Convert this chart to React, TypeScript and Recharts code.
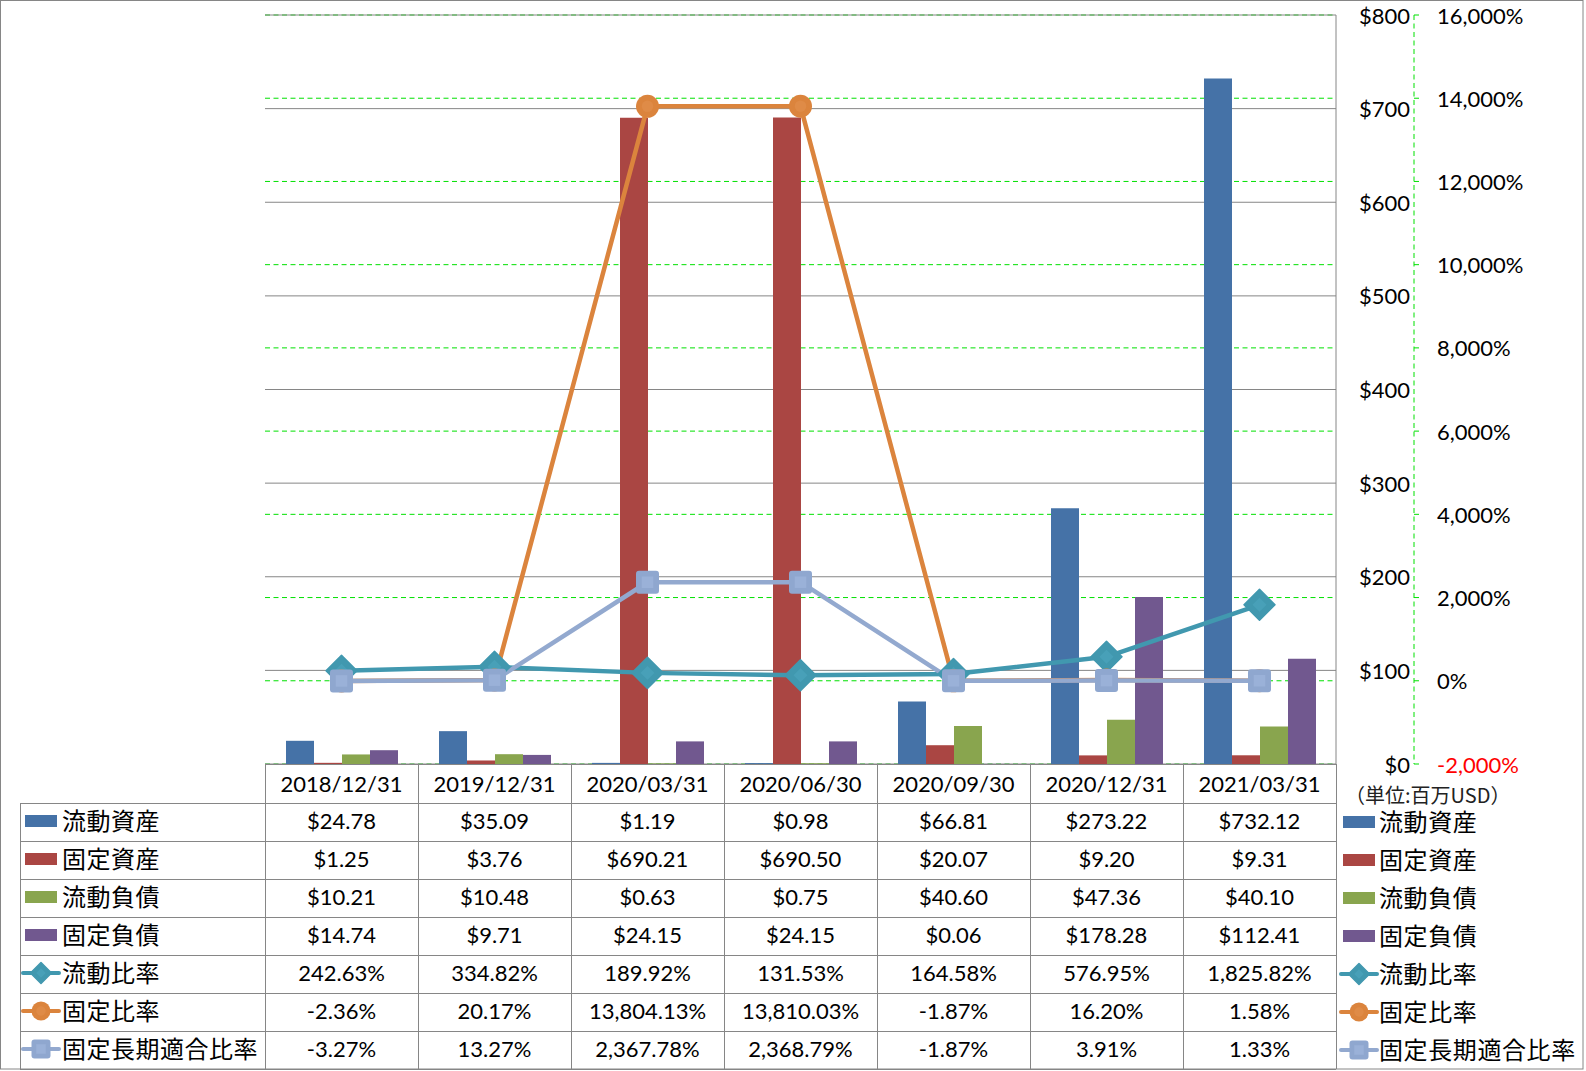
import { Bar, CartesianGrid, ComposedChart, Line, XAxis, YAxis } from "recharts"

const dates = ["2018/12/31", "2019/12/31", "2020/03/31", "2020/06/30", "2020/09/30", "2020/12/31", "2021/03/31"]

// 単位: 百万USD
const currentAssets = [24.78, 35.09, 1.19, 0.98, 66.81, 273.22, 732.12]
const fixedAssets = [1.25, 3.76, 690.21, 690.5, 20.07, 9.2, 9.31]
const currentLiabilities = [10.21, 10.48, 0.63, 0.75, 40.6, 47.36, 40.1]
const fixedLiabilities = [14.74, 9.71, 24.15, 24.15, 0.06, 178.28, 112.41]

// %
const currentRatio = [242.63, 334.82, 189.92, 131.53, 164.58, 576.95, 1825.82]
const fixedRatio = [-2.36, 20.17, 13804.13, 13810.03, -1.87, 16.2, 1.58]
const fixedLongTermRatio = [-3.27, 13.27, 2367.78, 2368.79, -1.87, 3.91, 1.33]

const usdTicks = [0, 100, 200, 300, 400, 500, 600, 700, 800]
const pctTicks = [-2000, 0, 2000, 4000, 6000, 8000, 10000, 12000, 14000, 16000]

type Marker = "bar" | "diamond" | "circle" | "square"

const SERIES: { key: string; name: string; color: string; marker: Marker; values: number[] }[] = [
  { key: "ca", name: "流動資産", color: "#4572A7", marker: "bar", values: currentAssets },
  { key: "fa", name: "固定資産", color: "#AA4643", marker: "bar", values: fixedAssets },
  { key: "cl", name: "流動負債", color: "#89A54E", marker: "bar", values: currentLiabilities },
  { key: "fl", name: "固定負債", color: "#71588F", marker: "bar", values: fixedLiabilities },
  { key: "cr", name: "流動比率", color: "#4198AF", marker: "diamond", values: currentRatio },
  { key: "fr", name: "固定比率", color: "#DB843D", marker: "circle", values: fixedRatio },
  { key: "flr", name: "固定長期適合比率", color: "#93A9CF", marker: "square", values: fixedLongTermRatio },
]

const rows = dates.map((date, i) => {
  const row: Record<string, string | number> = { date }
  SERIES.forEach((s) => (row[s.key] = s.values[i]))
  return row
})

const NUM_FONT = "Lato, 'Noto Sans', sans-serif"
const CJK_FONT = "'Noto Sans CJK JP', sans-serif"
const GRID = "#868686"
const GREEN = "#00E000"

// axis ids: 0 = $ (primary, inner), 1 = % (secondary, outer)
const USD = 0
const PCT = 1

// layout of the Excel-style sheet
const PLOT_LEFT = 265
const PLOT_TOP = 15
const PLOT_BOTTOM = 764
const COL_W = 153
const HEADER_H = 39
const ROW_H = 38
const KEY_LEFT = 20
const FRAME_W = 1583
const FRAME_H = 1069

const fmtUsd = (v: number) => "$" + v.toFixed(2)
const fmtPct = (v: number) =>
  v.toLocaleString("en-US", { minimumFractionDigits: 2, maximumFractionDigits: 2 }) + "%"

function MarkerShape({ marker, color, cx, cy, size }: { marker: Marker; color: string; cx: number; cy: number; size: number }) {
  if (marker === "diamond") {
    const h = size / 2
    return (
      <g>
        <path d={`M${cx},${cy - h} L${cx + h},${cy} L${cx},${cy + h} L${cx - h},${cy} Z`} fill={color} stroke={color} strokeWidth={1.5} strokeLinejoin="round" />
        <path d={`M${cx},${cy - h * 0.45} L${cx + h * 0.45},${cy} L${cx},${cy + h * 0.45} L${cx - h * 0.45},${cy} Z`} fill="#48A0B8" />
      </g>
    )
  }
  if (marker === "circle") {
    return (
      <g>
        <circle cx={cx} cy={cy} r={size / 2} fill={color} />
        <circle cx={cx} cy={cy} r={size / 4} fill="#DF8B47" />
      </g>
    )
  }
  const h = size / 2
  return (
    <g>
      <rect x={cx - h} y={cy - h} width={size} height={size} rx={3} fill="#8FA7CF" />
      <rect x={cx - h * 0.5} y={cy - h * 0.5} width={h} height={h} fill="#9AB1D8" />
    </g>
  )
}

const DOT_SIZE: Record<string, number> = { diamond: 31, circle: 23, square: 23 }

function makeDot(marker: Marker, color: string) {
  return (props: any) => {
    const { cx, cy, index } = props
    if (cx == null || cy == null) return <g key={index} />
    return (
      <g key={index}>
        <MarkerShape marker={marker} color={color} cx={cx} cy={cy} size={DOT_SIZE[marker]} />
      </g>
    )
  }
}

function UsdTick({ x, y, payload }: any) {
  return (
    <text x={x + 74} y={y} textAnchor="end" dominantBaseline="central" fontFamily={NUM_FONT} fontSize={22} fill="#000">
      {"$" + payload.value}
    </text>
  )
}

function PctTick({ x, y, payload }: any) {
  const v = Number(payload.value)
  return (
    <text x={x} y={y} textAnchor="start" dominantBaseline="central" fontFamily={NUM_FONT} fontSize={22} fill={v < 0 ? "#FF0000" : "#000"}>
      {v.toLocaleString("en-US") + "%"}
    </text>
  )
}

function LegendKey({ marker, color, x, cy }: { marker: Marker; color: string; x: number; cy: number }) {
  if (marker === "bar") return <rect x={x + 2} y={cy - 6} width={32} height={12} fill={color} />
  const size = marker === "diamond" ? 21 : 19
  return (
    <g>
      <line x1={x} x2={x + 36} y1={cy} y2={cy} stroke={color} strokeWidth={4} strokeLinecap="round" />
      <MarkerShape marker={marker} color={color} cx={x + 18} cy={cy} size={size} />
    </g>
  )
}

function DataTable() {
  const right = PLOT_LEFT + COL_W * dates.length
  const bodyTop = PLOT_BOTTOM + HEADER_H
  const bottom = bodyTop + ROW_H * SERIES.length
  return (
    <svg width={1586} height={1071} style={{ position: "absolute", left: 0, top: 0, pointerEvents: "none" }}>
      <rect x={0.5} y={0.5} width={FRAME_W - 0.5} height={FRAME_H - 0.5} fill="none" stroke={GRID} strokeWidth={1} />
      {/* grid lines */}
      <line x1={PLOT_LEFT} x2={right} y1={PLOT_BOTTOM + 0.5} y2={PLOT_BOTTOM + 0.5} stroke={GRID} />
      {SERIES.map((_, r) => (
        <line key={r} x1={KEY_LEFT} x2={right} y1={bodyTop + ROW_H * r + 0.5} y2={bodyTop + ROW_H * r + 0.5} stroke={GRID} />
      ))}
      <line x1={KEY_LEFT} x2={right} y1={bottom + 0.5} y2={bottom + 0.5} stroke={GRID} />
      <line x1={KEY_LEFT + 0.5} x2={KEY_LEFT + 0.5} y1={bodyTop} y2={bottom} stroke={GRID} />
      {dates.map((_, i) => (
        <line key={i} x1={PLOT_LEFT + COL_W * i + 0.5} x2={PLOT_LEFT + COL_W * i + 0.5} y1={PLOT_BOTTOM} y2={bottom} stroke={GRID} />
      ))}
      <line x1={right + 0.5} x2={right + 0.5} y1={PLOT_BOTTOM} y2={bottom} stroke={GRID} />

      {/* header */}
      {dates.map((d, i) => (
        <text key={d} x={PLOT_LEFT + COL_W * i + COL_W / 2} y={PLOT_BOTTOM + HEADER_H / 2} textAnchor="middle" dominantBaseline="central" fontFamily={NUM_FONT} fontSize={22} fill="#000">
          {d}
        </text>
      ))}

      {/* body */}
      {SERIES.map((s, r) => {
        const cy = bodyTop + ROW_H * r + ROW_H / 2 - 2
        return (
          <g key={s.key}>
            <LegendKey marker={s.marker} color={s.color} x={23} cy={cy + 1} />
            <text x={62} y={cy - 1} dominantBaseline="central" fontFamily={CJK_FONT} fontSize={24} letterSpacing={0.5} fill="#000">
              {s.name}
            </text>
            {s.values.map((v, i) => (
              <text key={i} x={PLOT_LEFT + COL_W * i + COL_W / 2} y={cy} textAnchor="middle" dominantBaseline="central" fontFamily={NUM_FONT} fontSize={22} fill="#000">
                {s.marker === "bar" ? fmtUsd(v) : fmtPct(v)}
              </text>
            ))}
            {/* right-hand legend */}
            <LegendKey marker={s.marker} color={s.color} x={1341} cy={cy + 2} />
            <text x={1379} y={cy} dominantBaseline="central" fontFamily={CJK_FONT} fontSize={24} letterSpacing={0.6} fill="#000">
              {s.name}
            </text>
          </g>
        )
      })}

      <text x={1345} y={794} dominantBaseline="central" fontFamily={CJK_FONT} fontSize={20} fill="#222">
        （単位:百万USD）
      </text>
    </svg>
  )
}

export default function App() {
  const bars = SERIES.filter((s) => s.marker === "bar")
  const lines = SERIES.filter((s) => s.marker !== "bar")
  return (
    <div style={{ position: "absolute", left: 0, top: 0, width: 1586, height: 1071, background: "#fff" }}>
      <ComposedChart
        width={1586}
        height={1071}
        data={rows}
        margin={{ top: PLOT_TOP, right: 0, left: PLOT_LEFT, bottom: 1071 - PLOT_BOTTOM }}
        barCategoryGap={21}
        barGap={0}
      >
        <XAxis dataKey="date" hide />
        <YAxis
          yAxisId={USD}
          orientation="right"
          width={78}
          domain={[0, 800]}
          ticks={usdTicks}
          interval={0}
          axisLine={{ stroke: GRID }}
          tickLine={false}
          tickSize={0}
          tickMargin={0}
          tick={<UsdTick />}
        />
        <YAxis
          yAxisId={PCT}
          orientation="right"
          width={172}
          domain={[-2000, 16000]}
          ticks={pctTicks}
          interval={0}
          axisLine={{ stroke: GREEN, strokeDasharray: "5 3.5" }}
          tickLine={{ stroke: GREEN }}
          tickSize={5}
          tickMargin={18}
          tick={<PctTick />}
        />
        <CartesianGrid yAxisId={PCT} vertical={false} stroke={GREEN} strokeDasharray="5 3.5" />
        <CartesianGrid yAxisId={USD} vertical={false} stroke={GRID} />
        {bars.map((s) => (
          <Bar key={s.key} yAxisId={USD} dataKey={s.key} name={s.name} fill={s.color} isAnimationActive={false} />
        ))}
        {lines.map((s) => (
          <Line
            key={s.key}
            yAxisId={PCT}
            type="linear"
            dataKey={s.key}
            name={s.name}
            stroke={s.color}
            strokeWidth={4.5}
            strokeLinejoin="round"
            dot={makeDot(s.marker, s.color)}
            activeDot={false}
            isAnimationActive={false}
          />
        ))}
      </ComposedChart>
      <DataTable />
    </div>
  )
}
